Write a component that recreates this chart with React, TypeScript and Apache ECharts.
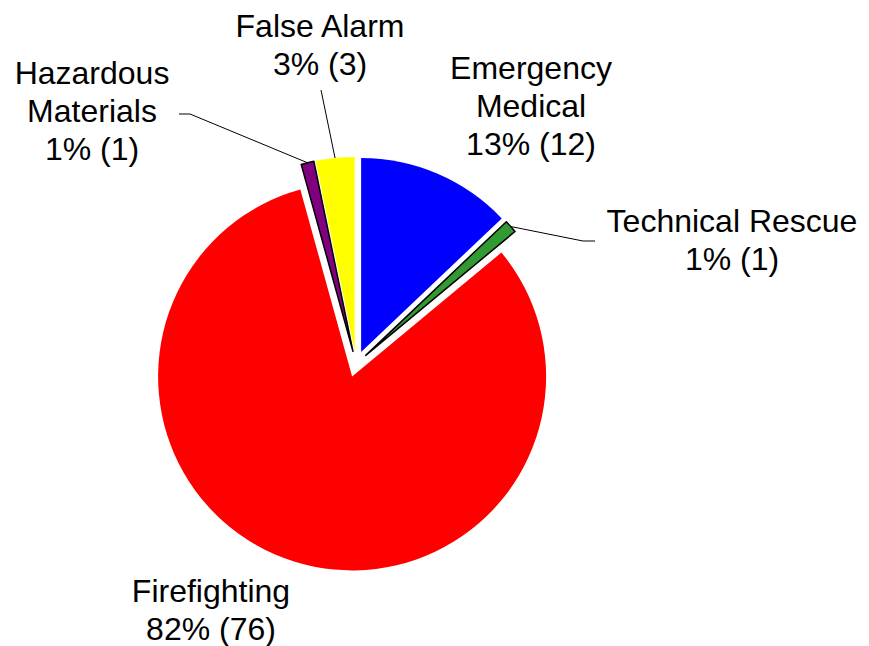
import React, { useEffect, useRef } from "react";
import * as echarts from "echarts";

// ---- data ----
const categories = ["Emergency\nMedical", "Technical Rescue", "Firefighting", "Hazardous\nMaterials", "False Alarm"];
const counts = [12, 1, 76, 1, 3];
const colors = ["#0000FF", "#339933", "#FF0000", "#800080", "#FFFF00"];
const outlined = [false, true, false, true, false];

// ---- layout config ----
const CX = 356;
const CY = 364;
const R = 194;
const OFFSET = 13;
const labelAnchors: number[][] = [
  [531, 106],
  [732, 240],
  [211, 610],
  [92, 111],
  [320, 45],
];
const labelBends: (number[][] | null)[] = [
  null,
  [[583, 241], [595, 241]],
  null,
  [[190, 114], [179, 114]],
  [[321, 90], [321, 90]],
];

const total = counts.reduce((a, b) => a + b, 0);

function midAngle(i: number): number {
  let cum = 0;
  for (let k = 0; k < i; k++) cum += counts[k];
  return ((cum + counts[i] / 2) / total) * Math.PI * 2;
}

export default function App() {
  const ref = useRef<HTMLDivElement>(null);
  useEffect(() => {
    if (!ref.current) return;
    const chart = echarts.init(ref.current, undefined, { renderer: "svg" });
    const sliceData = categories.map((name, i) => ({
      name,
      value: counts[i],
      selected: true,
      itemStyle: {
        color: colors[i],
        borderColor: "#000",
        borderWidth: outlined[i] ? 1.5 : 0,
      },
    }));
    const labelData = categories.map((name, i) => ({
      name,
      value: counts[i],
      labelLine: { show: labelBends[i] != null },
    }));
    chart.setOption({
      animation: false,
      backgroundColor: "#ffffff",
      series: [
        {
          type: "pie",
          center: [CX, CY],
          radius: [0, R],
          startAngle: 90,
          clockwise: true,
          selectedMode: "multiple",
          selectedOffset: OFFSET,
          emphasis: { disabled: true },
          silent: true,
          label: { show: false },
          labelLine: { show: false },
          data: sliceData,
        },
        {
          type: "pie",
          center: [CX, CY],
          radius: [0, R],
          startAngle: 90,
          clockwise: true,
          selectedMode: false,
          avoidLabelOverlap: false,
          emphasis: { disabled: true },
          silent: true,
          itemStyle: { color: "rgba(0,0,0,0)", borderWidth: 0 },
          data: labelData,
          label: {
            show: true,
            position: "outside",
            color: "#000",
            fontFamily: "'Liberation Sans', Arial, sans-serif",
            fontSize: 32,
            lineHeight: 38,
            align: "center",
            formatter: (p: any) =>
              `${p.name}\n${Math.round((p.value / total) * 100)}% (${p.value})`,
          },
          labelLine: {
            show: true,
            lineStyle: { color: "#000", width: 1 },
          },
          labelLayout: (p: any) => {
            const i = p.dataIndex;
            const a = midAngle(i);
            const start = [
              CX + (R + OFFSET) * Math.sin(a),
              CY - (R + OFFSET) * Math.cos(a),
            ];
            const bends = labelBends[i];
            const res: any = {
              x: labelAnchors[i][0],
              y: labelAnchors[i][1],
              align: "center",
              verticalAlign: "middle",
            };
            if (bends) res.labelLinePoints = [start, ...bends];
            return res;
          },
        },
      ],
    });
    return () => chart.dispose();
  }, []);
  return (
    <div
      ref={ref}
      style={{ position: "absolute", left: 0, top: 0, width: 869, height: 646 }}
    />
  );
}
